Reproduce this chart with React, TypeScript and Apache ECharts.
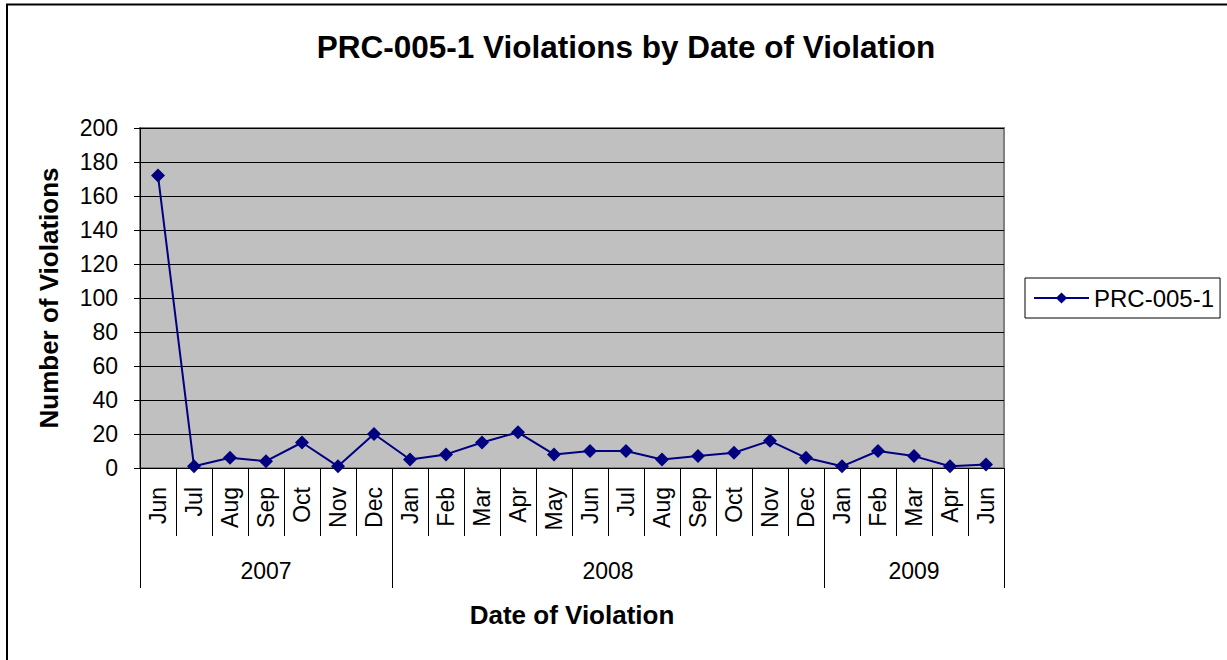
import React, { useEffect, useRef } from "react";
import * as echarts from "echarts";

const months = [
  "Jun", "Jul", "Aug", "Sep", "Oct", "Nov", "Dec",
  "Jan", "Feb", "Mar", "Apr", "May", "Jun", "Jul", "Aug", "Sep", "Oct", "Nov", "Dec",
  "Jan", "Feb", "Mar", "Apr", "Jun",
];
const years = ["2007", "2008", "2009"];
const yearCounts = [7, 12, 5];
const violations = [172, 1, 6, 4, 15, 1, 20, 5, 8, 15, 21, 8, 10, 10, 5, 7, 9, 16, 6, 1, 10, 7, 1, 2];
const seriesName = "PRC-005-1";
const yTicks = { min: 0, max: 200, interval: 20 };

const FONT = "'Liberation Sans', Arial, sans-serif";

export default function App() {
  const ref = useRef<HTMLDivElement>(null);
  useEffect(() => {
    if (!ref.current) return;
    const chart = echarts.init(ref.current, undefined, { renderer: "svg" });
    const bounds: number[] = [0];
    yearCounts.forEach((c) => bounds.push(bounds[bounds.length - 1] + c));
    const mids = years.map((_, i) => (bounds[i] + bounds[i + 1]) / 2);
    const total = bounds[bounds.length - 1];

    chart.setOption({
      animation: false,
      textStyle: { fontFamily: FONT },
      title: {
        text: "PRC-005-1 Violations by Date of Violation",
        left: 621,
        textAlign: "center",
        top: 26,
        textStyle: { fontSize: 31.5, fontWeight: "bold", color: "#000", fontFamily: FONT },
      },
      legend: {
        left: 1025,
        top: 278,
        orient: "vertical",
        borderColor: "#000",
        borderWidth: 1,
        padding: [8, 6, 8, 8],
        itemWidth: 55,
        itemHeight: 14,
        itemGap: 4,
        textStyle: { fontSize: 24, color: "#000", fontFamily: FONT },
        data: [seriesName],
      },
      grid: {
        left: 140,
        top: 128,
        width: 864,
        height: 340,
        show: true,
        backgroundColor: "#C0C0C0",
        borderColor: "#808080",
        borderWidth: 2,
        containLabel: false,
      },
      xAxis: [
        {
          type: "category",
          data: months,
          boundaryGap: true,
          position: "bottom",
          axisLine: { show: true, lineStyle: { color: "#000", width: 1 } },
          axisTick: { show: true, interval: 0, length: 68, lineStyle: { color: "#000", width: 1 } },
          axisLabel: {
            interval: 0,
            rotate: 90,
            fontSize: 23,
            color: "#000",
            margin: 19,
            fontFamily: FONT,
          },
          splitLine: { show: false },
        },
        {
          type: "value",
          min: 0,
          max: total,
          position: "bottom",
          axisLine: { show: false },
          splitLine: { show: false },
          axisTick: {
            show: true,
            length: 120,
            customValues: bounds,
            lineStyle: { color: "#000", width: 1 },
          },
          axisLabel: {
            show: true,
            customValues: mids,
            formatter: (v: number) => {
              const i = mids.findIndex((m) => Math.abs(m - v) < 1e-6);
              return i >= 0 ? years[i] : "";
            },
            fontSize: 23,
            color: "#000",
            margin: 91,
            fontFamily: FONT,
          },
          name: "Date of Violation",
          nameLocation: "middle",
          nameGap: 134,
          nameTextStyle: { fontSize: 26, fontWeight: "bold", color: "#000", fontFamily: FONT },
        },
      ],
      yAxis: {
        type: "value",
        min: yTicks.min,
        max: yTicks.max,
        interval: yTicks.interval,
        axisLine: { show: true, lineStyle: { color: "#000", width: 1 } },
        axisTick: { show: true, length: 6, lineStyle: { color: "#000" } },
        axisLabel: { fontSize: 23, color: "#000", margin: 22, fontFamily: FONT },
        splitLine: { show: true, lineStyle: { color: "#000", width: 1 } },
        name: "Number of Violations",
        nameLocation: "middle",
        nameRotate: 90,
        nameGap: 78,
        nameTextStyle: { fontSize: 26, fontWeight: "bold", color: "#000", fontFamily: FONT },
      },
      series: [
        {
          name: seriesName,
          type: "line",
          xAxisIndex: 0,
          data: violations,
          symbol: "diamond",
          symbolSize: 14,
          showAllSymbol: true,
          itemStyle: { color: "#000080" },
          lineStyle: { color: "#000080", width: 2 },
        },
      ],
      graphic: [
        {
          type: "rect",
          shape: { x: 7, y: 4.5, width: 1300, height: 700 },
          style: { fill: "none", stroke: "#000", lineWidth: 2 },
          silent: true,
        },
      ],
    });
    return () => chart.dispose();
  }, []);
  return (
    <div
      ref={ref}
      style={{ position: "absolute", left: 0, top: 0, width: 1227, height: 660, background: "#fff" }}
    />
  );
}
